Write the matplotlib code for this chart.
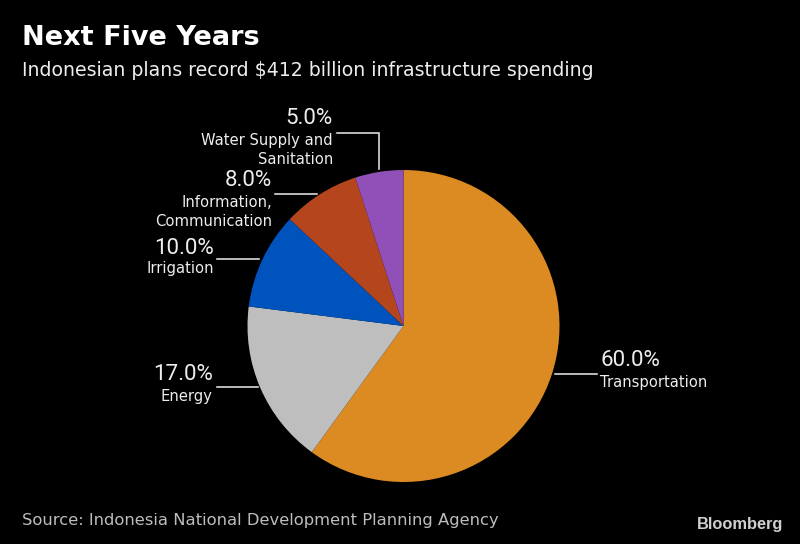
import matplotlib
matplotlib.use('Agg')
import matplotlib.pyplot as plt

categories = ['Transportation', 'Energy', 'Irrigation', 'Information,\nCommunication', 'Water Supply and\nSanitation']
values = [60.0, 17.0, 10.0, 8.0, 5.0]
colors = ['#DC8A22', '#BEBEBE', '#0053BD', '#B5451C', '#9050B8']

HEIGHT = 544
TEXT = '#EDEDED'

def py(y):
    # pixel rows from the top -> axes y
    return HEIGHT - y

fig = plt.figure(figsize=(8, 5.44), dpi=100, facecolor='black')
ax = fig.add_axes([0, 0, 1, 1])
ax.set_facecolor('black')

ax.pie(values, colors=colors, startangle=90, counterclock=False,
       center=(403.5, py(326)), radius=156, frame=True,
       wedgeprops={'linewidth': 0})
ax.set_xlim(0, 800)
ax.set_ylim(0, HEIGHT)
ax.set_aspect('equal')
ax.axis('off')

# leader lines
leaders = [
    ([555, 597], [374, 374]),
    ([217, 258], [387, 387]),
    ([217, 259], [259, 259]),
    ([275, 317], [194, 194]),
    ([337, 379, 379], [133, 133, 169]),
]
for xs, ys in leaders:
    ax.plot(xs, [py(y) for y in ys], color=TEXT, lw=1.1, solid_joinstyle='miter')

# x, y of the percent text, y of the name text, align
label_pos = [
    (600, 361, 382, 'left'),
    (213, 375, 396, 'right'),
    (214, 248, 268, 'right'),
    (272, 181, 212, 'right'),
    (333, 118, 150, 'right'),
]
for i, (x, y_pct, y_name, ha) in enumerate(label_pos):
    ax.text(x, py(y_pct), f'{values[i]:.1f}%', color=TEXT, fontsize=16, ha=ha, va='center',
            family='Roboto')
    ax.text(x, py(y_name), categories[i], color=TEXT, fontsize=10.6, ha=ha, va='center',
            linespacing=1.35)

ax.text(22, py(38), 'Next Five Years', color='white', fontsize=19.5, fontweight='bold', va='center')
ax.text(22, py(71), 'Indonesian plans record $412 billion infrastructure spending',
        color=TEXT, fontsize=13.6, va='center')
ax.text(22, py(520), 'Source: Indonesia National Development Planning Agency',
        color='#BDBDBD', fontsize=11.75, va='center')
ax.text(783, py(525), 'Bloomberg', color='#CFCFCF', fontsize=11.8, fontweight='bold',
        family='Liberation Sans', ha='right', va='center')

fig.savefig('out.png', dpi=100, facecolor='black')
